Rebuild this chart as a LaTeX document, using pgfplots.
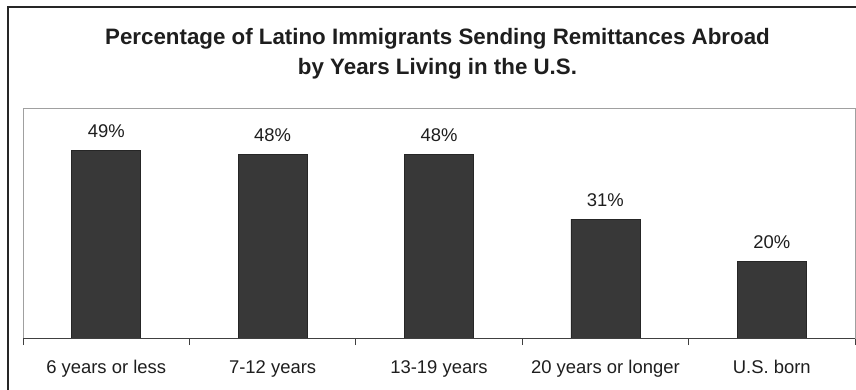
\documentclass[border=0pt]{standalone}
\usepackage{pgfplots}
\pgfplotsset{compat=1.18}
\usepackage{fontspec}
\setmainfont{Liberation Sans}
\definecolor{barfill}{HTML}{383838}
\definecolor{baredge}{HTML}{262626}
\definecolor{txt}{HTML}{1E1E1E}
\definecolor{boxgray}{HTML}{A0A0A0}
\begin{document}
\begin{tikzpicture}[x=1bp,y=1bp]
\path[use as bounding box] (-23,-51) rectangle (833,338);
\draw[line width=1.5bp,black!85] (-15,-52) -- (-15,331) -- (834,331);
\node[anchor=base,font=\fontsize{22.4}{26}\selectfont\bfseries,text=txt,inner sep=0] at (414.5,294) {Percentage of Latino Immigrants Sending Remittances Abroad};
\node[anchor=base,font=\fontsize{22.4}{26}\selectfont\bfseries,text=txt,inner sep=0] at (414.5,264) {by Years Living in the U.S.};
\begin{axis}[
  at={(0,0)}, anchor=south west,
  scale only axis, width=832bp, height=230bp,
  xmin=-0.5, xmax=4.5, ymin=0, ymax=60,
  axis line style={draw=boxgray, line width=1bp},
  ytick=\empty,
  xtick={0,1,2,3,4},
  xticklabels={6 years or less,7-12 years,13-19 years,20 years or longer,U.S. born},
  major tick length=0pt,
  minor xtick={-0.5,0.5,1.5,2.5,3.5,4.5},
  minor tick length=7bp,
  tick align=outside,
  xtick pos=bottom,
  minor tick style={draw=black!75, line width=0.9bp},
  xticklabel style={anchor=base, yshift=-35.5bp, inner sep=0, text=txt, font=\fontsize{18.5}{22}\selectfont},
  /pgf/number format/assume math mode=true,
  clip=false,
]
\addplot[ybar, bar width=69bp, fill=barfill, draw=baredge, line width=0.8bp,
  nodes near coords={\pgfmathprintnumber{\pgfplotspointmeta}\%},
  every node near coord/.append style={anchor=base, inner sep=0, yshift=12.5bp, text=txt, font=\fontsize{18.5}{22}\selectfont}]
  coordinates {(0,49) (1,48) (2,48) (3,31) (4,20)};
\draw[black!75, line width=1bp] (axis cs:-0.5,0) -- (axis cs:4.5,0);
\end{axis}
\end{tikzpicture}
\end{document}
